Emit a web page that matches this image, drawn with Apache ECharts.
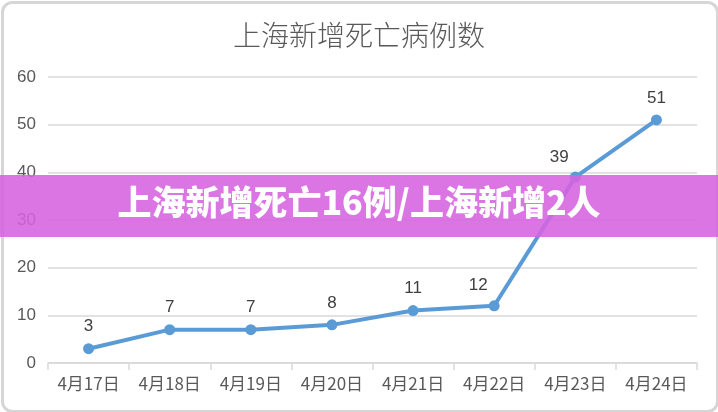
<!DOCTYPE html>
<html>
<head>
<meta charset="utf-8">
<script src="https://cdn.jsdelivr.net/npm/echarts@6/dist/echarts.min.js"></script>
<style>
  html, body { margin: 0; padding: 0; background: #fff; }
  #chart { width: 718px; height: 412px; }
</style>
</head>
<body>
<div id="chart"></div>
<script>
const titleText = '上海新增死亡病例数';
const bannerText = '上海新增死亡16例/上海新增2人';
const days = ['4月17日', '4月18日', '4月19日', '4月20日', '4月21日', '4月22日', '4月23日', '4月24日'];
const deaths = [3, 7, 7, 8, 11, 12, 39, 51];

const chart = echarts.init(document.getElementById('chart'));

// 12 和 39 的标签在原图里偏左
const points = deaths.map((v, i) => {
    if (i === 5 || i === 6) {
        return { value: v, label: { offset: [-16, 2] } };
    }
    return v;
});

chart.setOption({
    animation: false,
    title: {
        text: titleText,
        left: 'center',
        top: 16,
        textStyle: {
            fontFamily: 'Noto Sans CJK SC',
            fontWeight: 300,
            fontSize: 28,
            color: '#595959'
        }
    },
    grid: { left: 48, right: 21, top: 77, bottom: 49 },
    xAxis: {
        type: 'category',
        data: days,
        boundaryGap: true,
        axisLine: { lineStyle: { color: '#d9d9d9', width: 1.5 } },
        axisTick: { show: true, length: 7, lineStyle: { color: '#d9d9d9', width: 1.5 } },
        axisLabel: {
            color: '#595959',
            fontSize: 17,
            margin: 12,
            fontFamily: 'Noto Sans CJK SC'
        }
    },
    yAxis: {
        type: 'value',
        min: 0,
        max: 60,
        interval: 10,
        axisLine: { show: false },
        axisTick: { show: false },
        splitLine: { lineStyle: { color: '#d9d9d9', width: 1.5 } },
        axisLabel: {
            color: '#595959',
            fontSize: 17,
            margin: 12,
            fontFamily: 'Liberation Sans'
        }
    },
    series: [{
        type: 'line',
        data: points,
        symbol: 'circle',
        symbolSize: 11,
        lineStyle: { color: '#5b9bd5', width: 4 },
        itemStyle: { color: '#5b9bd5' },
        label: {
            show: true,
            position: 'top',
            distance: 8,
            color: '#404040',
            fontSize: 17,
            fontFamily: 'Liberation Sans'
        }
    }],
    graphic: [
        {
            type: 'rect',
            left: 0,
            top: 0,
            shape: { x: 1.5, y: 1.5, width: 715, height: 409, r: 10 },
            style: { fill: 'none', stroke: '#d6d6d6', lineWidth: 3 },
            z: 100
        },
        {
            type: 'rect',
            shape: { x: 0, y: 175, width: 718, height: 62 },
            style: { fill: 'rgba(214, 98, 224, 0.88)' },
            z: 101
        },
        {
            type: 'text',
            left: 'center',
            top: 185,
            style: {
                text: bannerText,
                fill: '#fff',
                font: '900 34px "Noto Sans CJK SC"'
            },
            z: 102
        }
    ]
});

window.addEventListener('resize', function () {
    chart.resize();
});
</script>
</body>
</html>
